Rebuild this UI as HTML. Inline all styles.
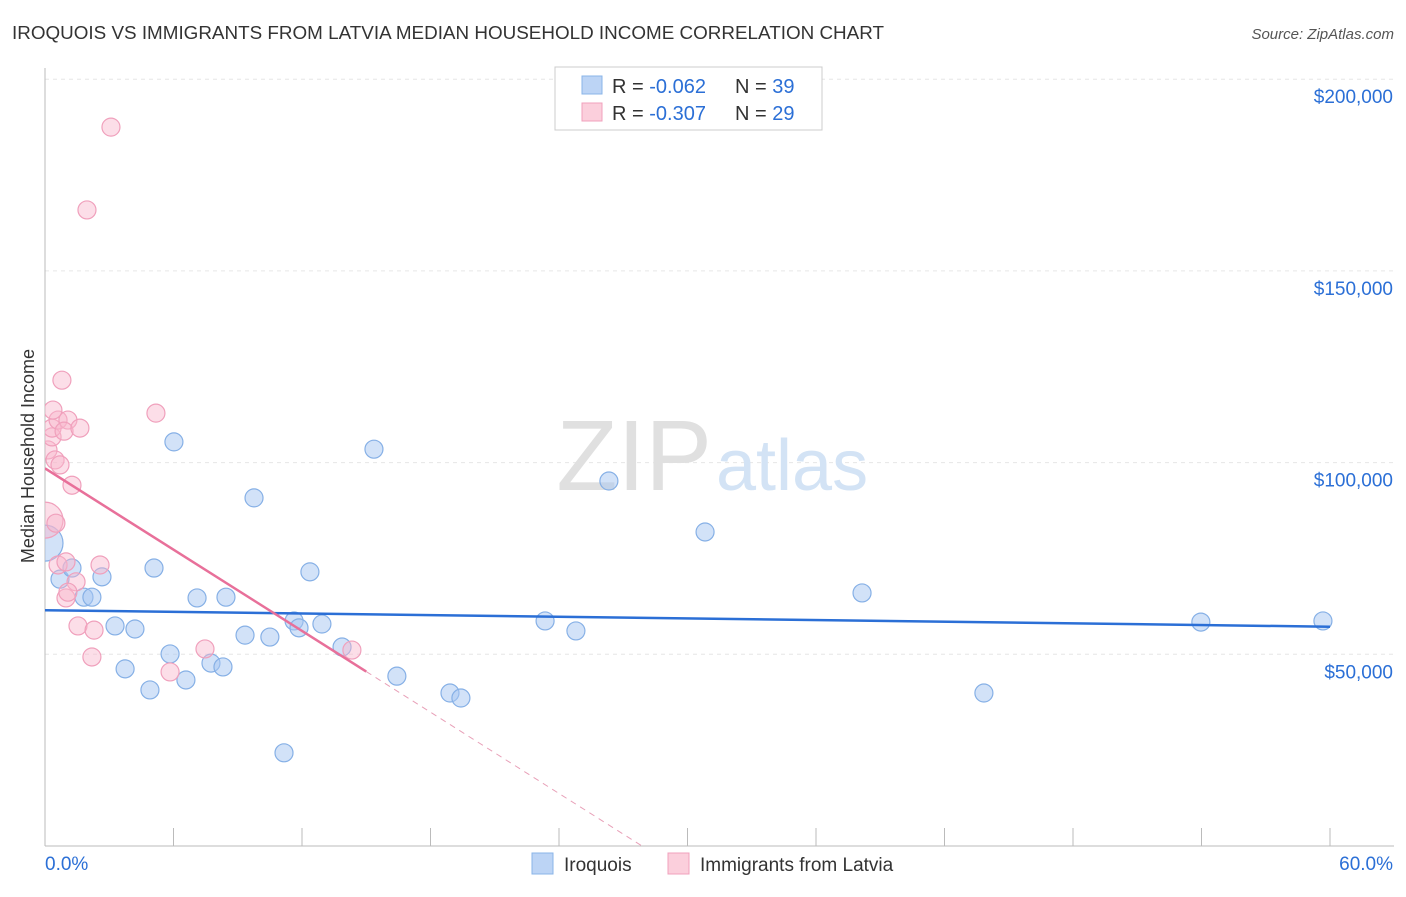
<!DOCTYPE html>
<html><head><meta charset="utf-8"><style>
body{margin:0;background:#fff;font-family:"Liberation Sans",sans-serif;}
svg text{font-family:"Liberation Sans",sans-serif;}
</style></head><body>
<svg id="chart" width="1406" height="892">
<defs><clipPath id="plotclip"><rect x="45" y="60" width="1360" height="786"/></clipPath></defs>
<text x="12" y="39" font-size="18" fill="#333" textLength="872" lengthAdjust="spacingAndGlyphs">IROQUOIS VS IMMIGRANTS FROM LATVIA MEDIAN HOUSEHOLD INCOME CORRELATION CHART</text>
<text x="1394" y="39" font-size="15" fill="#555" font-style="italic" text-anchor="end">Source: ZipAtlas.com</text>
<g id="grid"></g>
<text x="712" y="490" font-size="100" fill="#e0e0e0" text-anchor="end" font-family="Liberation Serif, serif">ZIP</text>
<text x="716" y="490" font-size="72" fill="#d3e3f5">atlas</text>
<text transform="translate(34,456) rotate(-90)" font-size="18" fill="#333" text-anchor="middle">Median Household Income</text>
<g id="marks" clip-path="url(#plotclip)"></g>
<g>
<rect x="555" y="67" width="267" height="63" fill="#fff" stroke="#ccc"/>
<rect x="582" y="76" width="20" height="18" fill="#bcd4f5" stroke="#8ab4e8"/>
<text x="612" y="93" font-size="20" fill="#333">R = <tspan fill="#2b6fd6">-0.062</tspan></text>
<text x="735" y="93" font-size="20" fill="#333">N = <tspan fill="#2b6fd6">39</tspan></text>
<rect x="582" y="103" width="20" height="18" fill="#fbcfdc" stroke="#f0a0bc"/>
<text x="612" y="120" font-size="20" fill="#333">R = <tspan fill="#2b6fd6">-0.307</tspan></text>
<text x="735" y="120" font-size="20" fill="#333">N = <tspan fill="#2b6fd6">29</tspan></text>
</g>
<g>
<rect x="532" y="853" width="21" height="21" fill="#bcd4f5" stroke="#8ab4e8"/>
<text x="564" y="871" font-size="19" fill="#333">Iroquois</text>
<rect x="668" y="853" width="21" height="21" fill="#fbcfdc" stroke="#f0a0bc"/>
<text x="700" y="871" font-size="19" fill="#333">Immigrants from Latvia</text>
</g>
</svg>
<script>
const blueX=[0,0.7,1.26,1.82,2.19,2.66,3.27,4.2,3.74,4.9,5.09,5.84,6.02,6.58,7.1,7.75,8.31,8.45,9.34,9.76,10.5,11.16,11.63,11.86,12.37,12.93,13.87,15.36,16.43,18.91,19.42,23.35,24.79,26.33,30.82,38.15,43.84,53.97,59.67];
const blueY=[79000,69600,72500,64900,64900,70200,57400,56600,46200,40700,72500,50100,105400,43300,64700,47700,46700,64900,55000,90800,54500,24300,58700,56900,71500,57900,51900,103500,44300,39900,38600,58700,56100,95200,81900,66000,39900,58400,58700];
const pinkX=[0,0.14,0.33,0.33,0.47,0.51,0.61,0.79,0.7,0.61,0.98,0.98,1.07,0.89,1.26,1.45,1.54,1.63,2.19,2.29,2.57,1.96,3.08,5.18,5.84,7.47,14.33,1.07,0.37];
const pinkY=[85000,103300,106700,109000,100700,84200,111100,121500,99400,73300,74100,64700,111100,108200,94100,68900,57400,109000,49300,56300,73300,165900,187500,112900,45400,51400,51100,66200,113700];
const yTicks=[50000,100000,150000,200000];
const yTickLabels=["$50,000","$100,000","$150,000","$200,000"];
const blueTrend=[61500,57200];
const pinkTrend=[98500,45500];
const NS="http://www.w3.org/2000/svg";
const sx=v=>45+v/60*1285, sy=v=>846-v/50000*191.7;
function mk(t,a,p){const e=document.createElementNS(NS,t);for(const k in a)e.setAttribute(k,a[k]);p.appendChild(e);return e;}
const grid=document.getElementById('grid'), marks=document.getElementById('marks');
yTicks.forEach((t,i)=>{
 const l=mk('line',{x1:45,x2:1394,y1:sy(t),y2:sy(t),stroke:'#e6e6e6','stroke-dasharray':'4 4'},grid);
 
 
 const tx=mk('text',{x:1393,y:sy(t)+24,'font-size':19,fill:'#2b6fd6','text-anchor':'end'},grid);tx.textContent=yTickLabels[i];
 
 
});
mk('line',{x1:45,x2:45,y1:68,y2:846,stroke:'#bbb'},grid);
mk('line',{x1:45,x2:1394,y1:846,y2:846,stroke:'#bbb'},grid);
for(let i=0;i<=10;i++){const t=mk('line',{x1:sx(i*6),x2:sx(i*6),y1:828,y2:846,stroke:'#bbb'},grid);
 
 }
const x0=mk('text',{x:45,y:870,'font-size':19,fill:'#2b6fd6'},grid);x0.textContent='0.0%';


const x1=mk('text',{x:1393,y:870,'font-size':19,fill:'#2b6fd6','text-anchor':'end'},grid);x1.textContent='60.0%';


blueX.forEach((v,i)=>{const c=mk('circle',{cx:sx(v),cy:sy(blueY[i]),r:i==0?18:9,fill:'rgba(165,198,242,0.5)',stroke:'#86b0e6','stroke-width':1.2},marks);
 
 });
pinkX.forEach((v,i)=>{const c=mk('circle',{cx:sx(v),cy:sy(pinkY[i]),r:i==0?18:9,fill:'rgba(248,182,204,0.45)',stroke:'#f0a0bc','stroke-width':1.2},marks);
 
 });
const bl=mk('line',{x1:sx(0),y1:sy(blueTrend[0]),x2:sx(60),y2:sy(blueTrend[1]),stroke:'#2b6fd6','stroke-width':2.5},marks);


const slope=(pinkTrend[1]-pinkTrend[0])/15;
const pl=mk('line',{x1:sx(0),y1:sy(pinkTrend[0]),x2:sx(15),y2:sy(pinkTrend[1]),stroke:'#e8709a','stroke-width':2.5},marks);


const xEnd=-pinkTrend[0]/slope;
const pd=mk('line',{x1:sx(15),y1:sy(pinkTrend[1]),x2:sx(xEnd),y2:sy(0),stroke:'#e8a0b8','stroke-width':1,'stroke-dasharray':'6 5'},marks);


</script>
</body></html>
